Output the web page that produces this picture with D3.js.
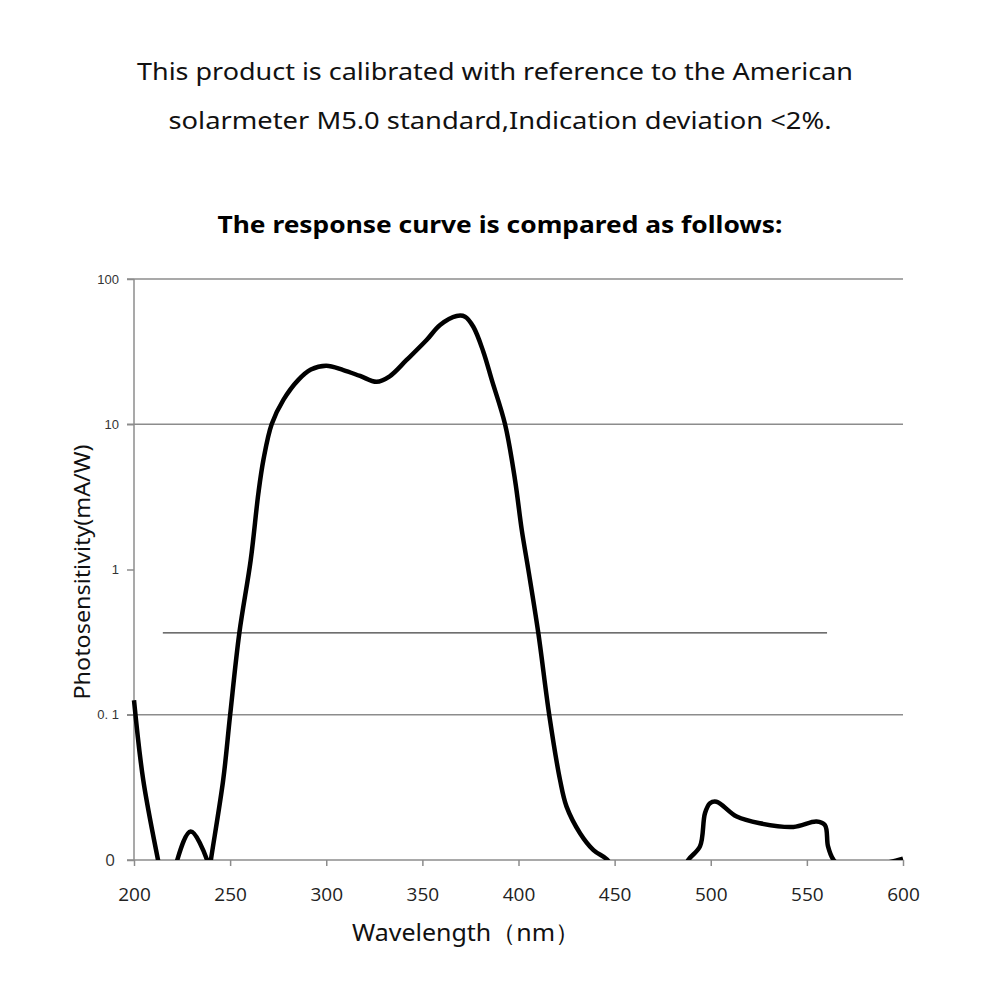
<!DOCTYPE html>
<html>
<head>
<meta charset="utf-8">
<script src="https://cdn.jsdelivr.net/npm/d3@7"></script>
<style>
  body { margin: 0; background: #fff; }
  svg { display: block; }
</style>
</head>
<body>
<script>
// wavelength (nm) and photosensitivity (mA/W)
// values under 0.01 sit below the "0" axis and get clipped away
const wavelength = [200, 204.8, 212.5, 216, 220, 222.5, 229.5, 238, 239, 240, 246.4, 250, 254.8, 260.7, 264.7, 267.3,
  271.6, 277.7, 285.5, 292, 300, 308.9, 317.6, 326.2, 333, 341.8, 352.2, 359.2, 367.8, 372.2, 376.5, 381.7,
  386.1, 393, 398.2, 401.7, 405.1, 410.3, 416, 421.6, 425, 432, 439, 446, 452, 485, 488.3, 494.4, 497, 499.6,
  503, 513.5, 525.6, 543, 555, 559.4, 561, 563.7, 568, 590, 600];
const sensitivity = [0.126, 0.0356, 0.01, 0.006, 0.006, 0.01, 0.0157, 0.01, 0.008, 0.01, 0.0356, 0.0995, 0.366, 1.16, 3.35, 5.67,
  10, 14.7, 20.2, 23.8, 25.3, 23.6, 21.5, 19.6, 21.4, 27.7, 38.0, 48.2, 55.6, 55.0, 46.9, 31.6,
  20.2, 10, 4.13, 1.87, 1.0, 0.366, 0.0995, 0.0356, 0.0233, 0.0153, 0.0117, 0.0101, 0.008, 0.008, 0.01, 0.0124, 0.021, 0.0246,
  0.0252, 0.0199, 0.0179, 0.0169, 0.0184, 0.0174, 0.0124, 0.0101, 0.009, 0.0095, 0.0102];

const xTicks = [200, 250, 300, 350, 400, 450, 500, 550, 600];
const yTicks = [0.01, 0.1, 1, 10, 100];
const yTickLabels = ["0", "0. 1", "1", "10", "100"];
const yGridTicks = [0.1, 10, 100];   // no grid line drawn at 1
const refLine = { x0: 215, x1: 560.5, y: 0.366 };

const W = 1001, H = 1001;
const svg = d3.select("body").append("svg").attr("width", W).attr("height", H);

const x = d3.scaleLinear().domain([200, 600]).range([134, 903]);
const y = d3.scaleLog().domain([0.01, 100]).range([860, 279]);

const titleFont = "'Noto Sans', 'Open Sans', sans-serif";

svg.append("text").attr("x", 495).attr("y", 80).attr("text-anchor", "middle")
  .style("font-family", titleFont).style("font-size", "24px").attr("fill", "#111")
  .attr("textLength", 716).attr("lengthAdjust", "spacingAndGlyphs")
  .text("This product is calibrated with reference to the American");
svg.append("text").attr("x", 500).attr("y", 129).attr("text-anchor", "middle")
  .style("font-family", titleFont).style("font-size", "24px").attr("fill", "#111")
  .attr("textLength", 663).attr("lengthAdjust", "spacingAndGlyphs")
  .text("solarmeter M5.0 standard,Indication deviation <2%.");
svg.append("text").attr("x", 500).attr("y", 233).attr("text-anchor", "middle")
  .style("font-family", titleFont).style("font-size", "24px").style("font-weight", "bold").attr("fill", "#000")
  .attr("textLength", 565).attr("lengthAdjust", "spacingAndGlyphs")
  .text("The response curve is compared as follows:");

// grid lines
svg.selectAll(".grid").data(yGridTicks).enter().append("line")
  .attr("class", "grid")
  .attr("x1", 127).attr("x2", 903)
  .attr("y1", d => y(d)).attr("y2", d => y(d))
  .attr("stroke", "#8c8c8c").attr("stroke-width", 1.5);

// y axis
const yAxis = d3.axisLeft(y).tickValues(yTicks).tickSize(7).tickFormat((d, i) => yTickLabels[i]);
const gy = svg.append("g").attr("transform", "translate(134,0)").call(yAxis);
gy.select(".domain").attr("stroke", "#8c8c8c").attr("stroke-width", 1.5).attr("d", "M0,279V860");
gy.selectAll(".tick line").attr("stroke", "#8c8c8c").attr("stroke-width", 1.5);
gy.selectAll(".tick text")
  .attr("x", d => d === 0.01 ? -19 : -15)
  .style("font-family", d => d === 0.01 ? "'Open Sans', sans-serif" : "'Liberation Sans', Arial, sans-serif")
  .style("font-size", d => d === 0.01 ? "17px" : "13px")
  .attr("fill", "#333");

// x axis
const xAxis = d3.axisBottom(x).tickValues(xTicks).tickSize(6).tickPadding(22);
const gx = svg.append("g").attr("transform", "translate(0,860)").call(xAxis);
gx.select(".domain").attr("stroke", "#8c8c8c").attr("stroke-width", 1.5).attr("d", "M127,0H903");
gx.selectAll(".tick line").attr("stroke", "#8c8c8c").attr("stroke-width", 1.5);
gx.selectAll(".tick text")
  .style("font-family", "'Open Sans', sans-serif").style("font-size", "19px").attr("fill", "#222");

// thin reference line
svg.append("line")
  .attr("x1", x(refLine.x0)).attr("x2", x(refLine.x1))
  .attr("y1", y(refLine.y)).attr("y2", y(refLine.y))
  .attr("stroke", "#111").attr("stroke-width", 1);

// response curve, clipped to the plot area
svg.append("clipPath").attr("id", "plotclip")
  .append("rect").attr("x", 130).attr("y", 270).attr("width", 780).attr("height", 590);

const pts = wavelength.map((w, i) => [w, sensitivity[i]]);
const line = d3.line()
  .x(d => x(d[0]))
  .y(d => y(d[1]))
  .curve(d3.curveCatmullRom.alpha(0.5));

svg.append("path")
  .datum(pts)
  .attr("clip-path", "url(#plotclip)")
  .attr("d", line)
  .attr("fill", "none")
  .attr("stroke", "#000")
  .attr("stroke-width", 4.5)
  .attr("stroke-linejoin", "round");

// axis titles
svg.append("text").attr("x", 466).attr("y", 941).attr("text-anchor", "middle")
  .style("font-family", titleFont).style("font-size", "24px").attr("fill", "#111")
  .attr("textLength", 228).attr("lengthAdjust", "spacingAndGlyphs")
  .text("Wavelength（nm）");
svg.append("text")
  .attr("transform", "translate(90,572) rotate(-90)")
  .attr("text-anchor", "middle")
  .style("font-family", titleFont).style("font-size", "21px").attr("fill", "#111")
  .attr("textLength", 255).attr("lengthAdjust", "spacingAndGlyphs")
  .text("Photosensitivity(mA/W)");
</script>
</body>
</html>
